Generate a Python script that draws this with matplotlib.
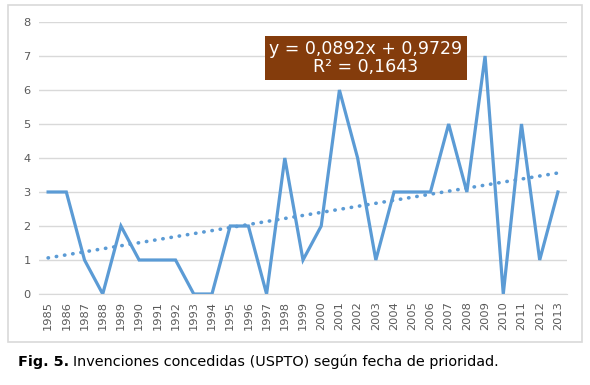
import matplotlib.pyplot as plt
import numpy as np

years = [str(y) for y in range(1985, 2014)]
counts = [3, 3, 1, 0, 2, 1, 1, 1, 0, 0, 2, 2, 0, 4, 1, 2, 6, 4, 1, 3, 3, 3, 5, 3, 7, 0, 5, 1, 3]
slope = 0.0892
intercept = 0.9729
r2 = 0.1643

plt.rcParams['font.family'] = ['DejaVu Sans']

fig = plt.figure(figsize=(5.9, 3.85), dpi=100)

# marco del gráfico
frame = plt.Rectangle((8 / 590, 1 - 342 / 385), 574 / 590, 337 / 385,
                      transform=fig.transFigure, fill=False, edgecolor='#d9d9d9', linewidth=1.2)
fig.patches.append(frame)

ax = fig.add_axes([39 / 590, 1 - 294 / 385, 528 / 590, 272 / 385])

x = np.arange(len(years))
ax.plot(x, counts, color='#5b9bd5', linewidth=2.3, solid_joinstyle='miter')
trend = intercept + slope * (x + 1)
ax.plot(x, trend, color='#5b9bd5', linewidth=2.6, linestyle=(0, (0.1, 2.2)),
        dash_capstyle='round')

ax.set_xlim(-0.5, len(years) - 0.5)
ax.set_ylim(0, 8)
ax.set_yticks(range(0, 9))
ax.set_xticks(x)
ax.set_xticklabels(years, rotation=90)
ax.tick_params(axis='both', length=0, labelsize=8.2, colors='#595959')
ax.tick_params(axis='x', pad=5)
ax.tick_params(axis='y', pad=6)
ax.grid(axis='y', color='#d9d9d9', linewidth=1)
ax.set_axisbelow(True)
for side in ['top', 'right', 'left']:
    ax.spines[side].set_visible(False)
ax.spines['bottom'].set_color('#d9d9d9')

ax.text((366 - 39) / 528, (294 - 58) / 272,
        'y = 0,0892x + 0,9729\nR² = 0,1643', transform=ax.transAxes,
        ha='center', va='center', color='white', fontsize=12.5, linespacing=0.95,
        bbox=dict(boxstyle='square,pad=0.25', facecolor='#843c0c', edgecolor='none'))

# pie de figura
cap_y = 1 - 362 / 385
t1 = fig.text(18 / 590, cap_y, 'Fig. 5.', fontsize=10.4, fontweight='bold', va='center', ha='left')
fig.canvas.draw()
bb = t1.get_window_extent()
fig.text((bb.x1 + 4) / 590, cap_y, 'Invenciones concedidas (USPTO) según fecha de prioridad.',
         fontsize=10.4, va='center', ha='left')

fig.savefig('out.png', dpi=100)
